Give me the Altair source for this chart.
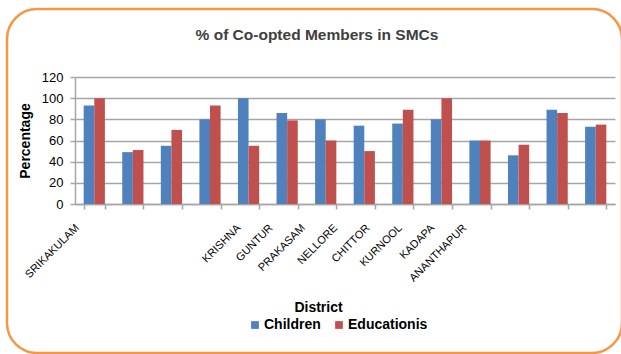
import json
import altair as alt
import pandas as pd

# ---- data ----
groups = [str(i) for i in range(1, 15)]
children = [93, 49, 55, 80, 100, 86, 80, 74, 76, 80, 60, 46, 89, 73]
educationists = [100, 51, 70, 93, 55, 79, 60, 50, 89, 100, 60, 56, 86, 75]
tick_labels = ["SRIKAKULAM", "", "", "", "", "KRISHNA", "GUNTUR", "PRAKASAM",
               "NELLORE", "CHITTOR", "KURNOOL", "KADAPA", "ANANTHAPUR"]
series = ["Children", "Educationis"]
colors = ["#4f81bd", "#c0504d"]
y_ticks = [0, 20, 40, 60, 80, 100, 120]

rows = []
for g, c, e in zip(groups, children, educationists):
    rows.append({"group": g, "series": series[0], "value": c})
    rows.append({"group": g, "series": series[1], "value": e})
df = pd.DataFrame(rows)

label_pos = list(range(len(tick_labels)))
df_labels = pd.DataFrame({"pos": label_pos})
label_expr = json.dumps(tick_labels) + "[datum.value]"

FONT = "Liberation Sans"
GRID = "#a6a6a6"

border = alt.Chart(pd.DataFrame({"a": [0]})).mark_rect(
    cornerRadius=30, fillOpacity=0, stroke="#f79646", strokeWidth=2.5
).encode(
    x=alt.value(-68), x2=alt.value(547), y=alt.value(-68), y2=alt.value(276)
)

bars = alt.Chart(df).mark_bar().encode(
    x=alt.X("group:N", sort=groups,
            scale=alt.Scale(paddingInner=0.45, paddingOuter=0.225),
            axis=alt.Axis(labels=False, title=None, tickBand="extent",
                          tickSize=5, tickColor=GRID, domainColor=GRID,
                          domainWidth=1.5, tickWidth=1.5)),
    xOffset=alt.XOffset("series:N", sort=series),
    y=alt.Y("value:Q", scale=alt.Scale(domain=[0, 120], nice=False),
            axis=alt.Axis(values=y_ticks, title="Percentage", grid=True,
                          gridColor=GRID, gridWidth=1.5, tickSize=5,
                          tickColor=GRID, domainColor=GRID, domainWidth=1.5,
                          tickWidth=1.5, labelPadding=7, labelFontSize=13,
                          labelColor="#000000", titleFontSize=14,
                          titleFontWeight="bold", titleColor="#000000",
                          titlePadding=9)),
    color=alt.Color("series:N",
                    scale=alt.Scale(domain=series, range=colors),
                    legend=alt.Legend(orient="none", legendX=173, legendY=241,
                                      direction="horizontal", title=None,
                                      symbolType="square", symbolSize=60,
                                      symbolStrokeWidth=0,
                                      labelFontSize=14, labelFontWeight="bold",
                                      labelColor="#000000", columnPadding=11,
                                      labelOffset=2)),
)

labels_layer = alt.Chart(df_labels).mark_point(opacity=0).encode(
    x=alt.X("pos:Q",
            scale=alt.Scale(domain=[-0.062, 16.656], nice=False, zero=False),
            axis=alt.Axis(orient="bottom", values=label_pos,
                          labelExpr=label_expr, labelAngle=-45,
                          labelAlign="right", labelBaseline="middle",
                          labelOverlap=False, labelFlush=False,
                          ticks=False, domain=False, grid=False,
                          labelPadding=22, labelFontSize=11,
                          labelColor="#000000", title="District",
                          titleFontSize=14, titleFontWeight="bold",
                          titleColor="#000000", titleX=243, titleY=96,
                          titleBaseline="top"))
)

chart = alt.layer(border, bars, labels_layer).resolve_scale(
    x="independent"
).properties(
    width=540, height=127,
    title=alt.TitleParams("% of Co-opted Members in SMCs", fontSize=15.5,
                          font=FONT, fontWeight="bold", color="#404040",
                          anchor="middle", offset=-36, dx=-28),
    padding={"left": 75, "top": 77, "right": 6, "bottom": 150},
    autosize="none",
).configure(
    font=FONT,
    background="white",
).configure_view(stroke=None).configure_axis(
    labelFont=FONT, titleFont=FONT
).configure_legend(labelFont=FONT)

chart.save("out.html", embed_options={"renderer": "svg", "actions": False})
